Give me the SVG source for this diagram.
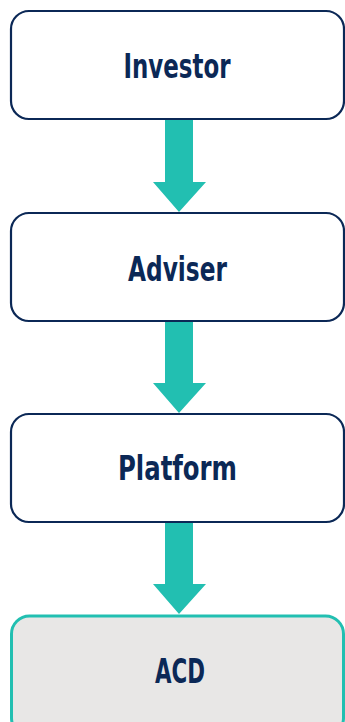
<svg xmlns="http://www.w3.org/2000/svg" width="345" height="722" viewBox="0 0 345 722">
<style>
.box{fill:#ffffff;stroke:#0b2856;stroke-width:2.2}
.end{fill:#e8e7e6;stroke:#22bfb1;stroke-width:3}
.lbl{font-family:"DejaVu Sans",sans-serif;font-weight:bold;font-size:34px;fill:#0b2856;text-anchor:middle}
.arr{fill:#22bfb1}
</style>
<rect width="345" height="722" fill="#ffffff"/>
<g id="investor"><rect class="box" x="11" y="11" width="333" height="108" rx="18"/><text class="lbl" x="177" y="78" textLength="107" lengthAdjust="spacingAndGlyphs">Investor</text></g>
<g id="adviser"><rect class="box" x="11" y="213" width="333" height="108" rx="18"/><text class="lbl" x="177.5" y="281" textLength="99" lengthAdjust="spacingAndGlyphs">Adviser</text></g>
<g id="platform"><rect class="box" x="11" y="414" width="333" height="108" rx="18"/><text class="lbl" x="177.5" y="480" textLength="119" lengthAdjust="spacingAndGlyphs">Platform</text></g>
<g id="acd"><rect class="end" x="11.5" y="616" width="332" height="120" rx="18"/><text class="lbl" x="180" y="683" textLength="50" lengthAdjust="spacingAndGlyphs">ACD</text></g>
<g id="connectors">
<polygon class="arr" points="165,120 193,120 193,182 206,182 179,212 153,182 165,182"/>
<polygon class="arr" points="165,322 193,322 193,383 206,383 179,413 153,383 165,383"/>
<polygon class="arr" points="165,523 193,523 193,584 206,584 179,614 153,584 165,584"/>
</g>
</svg>
